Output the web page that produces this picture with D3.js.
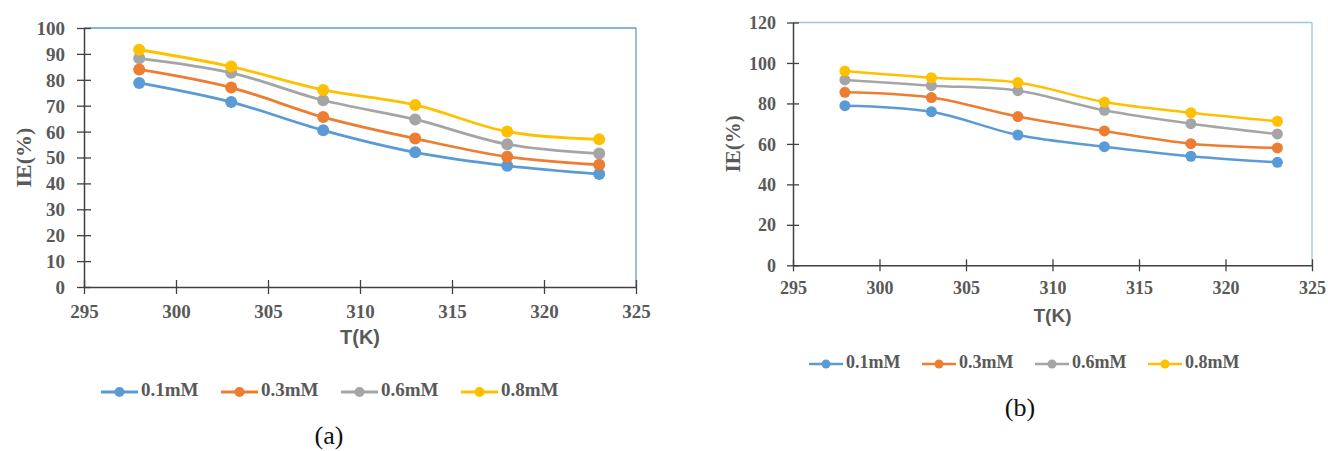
<!DOCTYPE html>
<html><head><meta charset="utf-8">
<script src="https://cdn.jsdelivr.net/npm/d3@7"></script>
<style>
body{margin:0;background:#fff;}
svg{display:block;}
</style></head>
<body>
<svg id="c" width="1328" height="451"></svg>
<script>
const temps = [298, 303, 308, 313, 318, 323];
const seriesNames = ["0.1mM", "0.3mM", "0.6mM", "0.8mM"];
const colors = ["#5b9bd5", "#ed7d31", "#a5a5a5", "#ffc000"];
const xTicks = [295, 300, 305, 310, 315, 320, 325];

// Chart (a)
const a_01 = [78.8, 71.4, 60.5, 52.0, 46.8, 43.6];
const a_03 = [84.0, 77.0, 65.6, 57.3, 50.3, 47.2];
const a_06 = [88.3, 82.7, 72.1, 64.7, 55.1, 51.5];
const a_08 = [91.6, 85.1, 76.1, 70.3, 60.0, 57.0];
const aYTicks = [0, 10, 20, 30, 40, 50, 60, 70, 80, 90, 100];

// Chart (b)
const b_01 = [78.9, 75.9, 64.4, 58.6, 53.9, 50.9];
const b_03 = [85.5, 82.9, 73.5, 66.4, 60.1, 58.0];
const b_06 = [91.6, 88.8, 86.3, 76.6, 70.0, 64.9];
const b_08 = [96.0, 92.7, 90.3, 80.7, 75.4, 71.2];
const bYTicks = [0, 20, 40, 60, 80, 100, 120];

const svg = d3.select("#c");
const SERIF = "'Liberation Serif', 'Times New Roman', serif";
const SANS = "'Liberation Sans Narrow', 'Liberation Sans', Arial, sans-serif";
const TXT = "#595959";

function drawChart(o){
  const x = d3.scaleLinear().domain([295, 325]).range([o.left, o.right]);
  const y = d3.scaleLinear().domain([0, o.ymax]).range([o.bottom, o.top]);
  const g = svg.append("g");

  g.append("line").attr("x1", o.left).attr("x2", o.right).attr("y1", o.top).attr("y2", o.top)
    .attr("stroke", o.frame).attr("stroke-width", 1.3);
  g.append("line").attr("x1", o.right).attr("x2", o.right).attr("y1", o.top).attr("y2", o.bottom)
    .attr("stroke", o.frame).attr("stroke-width", 1.3);

  const ya = g.append("g").attr("transform", `translate(${o.left},0)`)
    .call(d3.axisLeft(y).tickValues(o.yTicks).tickSizeInner(o.tick).tickSizeOuter(0).tickPadding(o.tick + 5));
  ya.selectAll(".tick line").attr("x1", o.tick).attr("stroke", "#404040").attr("stroke-width", 1.3);
  ya.select(".domain").attr("stroke", "#404040").attr("stroke-width", 1.5);
  ya.selectAll(".tick text").attr("fill", TXT).attr("dy", "0.34em")
    .style("font-family", SERIF).style("font-size", o.fs + "px").style("font-weight", "bold");

  const xa = g.append("g").attr("transform", `translate(0,${o.bottom})`)
    .call(d3.axisBottom(x).tickValues(xTicks).tickSizeInner(o.tick).tickSizeOuter(0).tickPadding(o.tick + 4));
  xa.selectAll(".tick line").attr("y1", -o.tick).attr("stroke", "#404040").attr("stroke-width", 1.3);
  xa.select(".domain").attr("stroke", "#404040").attr("stroke-width", 1.5);
  xa.selectAll(".tick text").attr("fill", TXT)
    .style("font-family", SERIF).style("font-size", o.fs + "px").style("font-weight", "bold");

  g.append("text").attr("x", (o.left + o.right) / 2).attr("y", o.xtY)
    .attr("text-anchor", "middle").attr("dominant-baseline", "middle")
    .style("font-family", SANS).style("font-weight", "bold").style("font-size", (o.fs + 1) + "px")
    .attr("fill", TXT).text("T(K)");
  g.append("text").attr("transform", `translate(${o.ytX},${(o.top + o.bottom) / 2}) rotate(-90)`)
    .attr("text-anchor", "middle").attr("dominant-baseline", "middle")
    .style("font-family", SERIF).style("font-weight", "bold").style("font-size", (o.fs + 3) + "px")
    .attr("fill", TXT).text("IE(%)");

  const line = d3.line().x((d, i) => x(temps[i])).y(d => y(d)).curve(d3.curveCatmullRom.alpha(0.5));
  o.series.forEach((s, k) => {
    g.append("path").datum(s).attr("d", line).attr("fill", "none")
      .attr("stroke", colors[k]).attr("stroke-width", o.lw);
  });
  o.series.forEach((s, k) => {
    g.selectAll(null).data(s).enter().append("circle")
      .attr("cx", (d, i) => x(temps[i])).attr("cy", d => y(d)).attr("r", o.r)
      .attr("fill", colors[k]);
  });

  seriesNames.forEach((n, k) => {
    const lx = o.legX + k * o.legStep;
    g.append("line").attr("x1", lx).attr("x2", lx + o.legLen).attr("y1", o.legY).attr("y2", o.legY)
      .attr("stroke", colors[k]).attr("stroke-width", o.lw);
    g.append("circle").attr("cx", lx + o.legLen / 2).attr("cy", o.legY).attr("r", o.r - 1).attr("fill", colors[k]);
    g.append("text").attr("x", lx + o.legLen + 3).attr("y", o.legY).attr("dominant-baseline", "middle")
      .style("font-family", SERIF).style("font-weight", "bold").style("font-size", o.lfs + "px")
      .attr("fill", TXT).text(n);
  });

  g.append("text").attr("x", o.capX).attr("y", o.capY).attr("text-anchor", "middle")
    .attr("dominant-baseline", "middle").style("font-family", SERIF).style("font-size", "26px")
    .attr("fill", "#111").text(o.caption);
}

drawChart({
  left: 84, right: 636, top: 28, bottom: 287, ymax: 100, yTicks: aYTicks,
  series: [a_01, a_03, a_06, a_08], frame: "#5b9bd5", tick: 7, fs: 19, lfs: 19, lw: 2.8, r: 6,
  xtY: 339, ytX: 26, legX: 101, legStep: 120, legLen: 37, legY: 392,
  capX: 329, capY: 438, caption: "(a)"
});

drawChart({
  left: 793, right: 1312, top: 22.5, bottom: 265.3, ymax: 120, yTicks: bYTicks,
  series: [b_01, b_03, b_06, b_08], frame: "#9dc3e6", tick: 6, fs: 18, lfs: 18, lw: 2.5, r: 5.5,
  xtY: 317, ytX: 735, legX: 809, legStep: 113, legLen: 34, legY: 364,
  capX: 1020, capY: 410, caption: "(b)"
});
</script>
</body></html>
